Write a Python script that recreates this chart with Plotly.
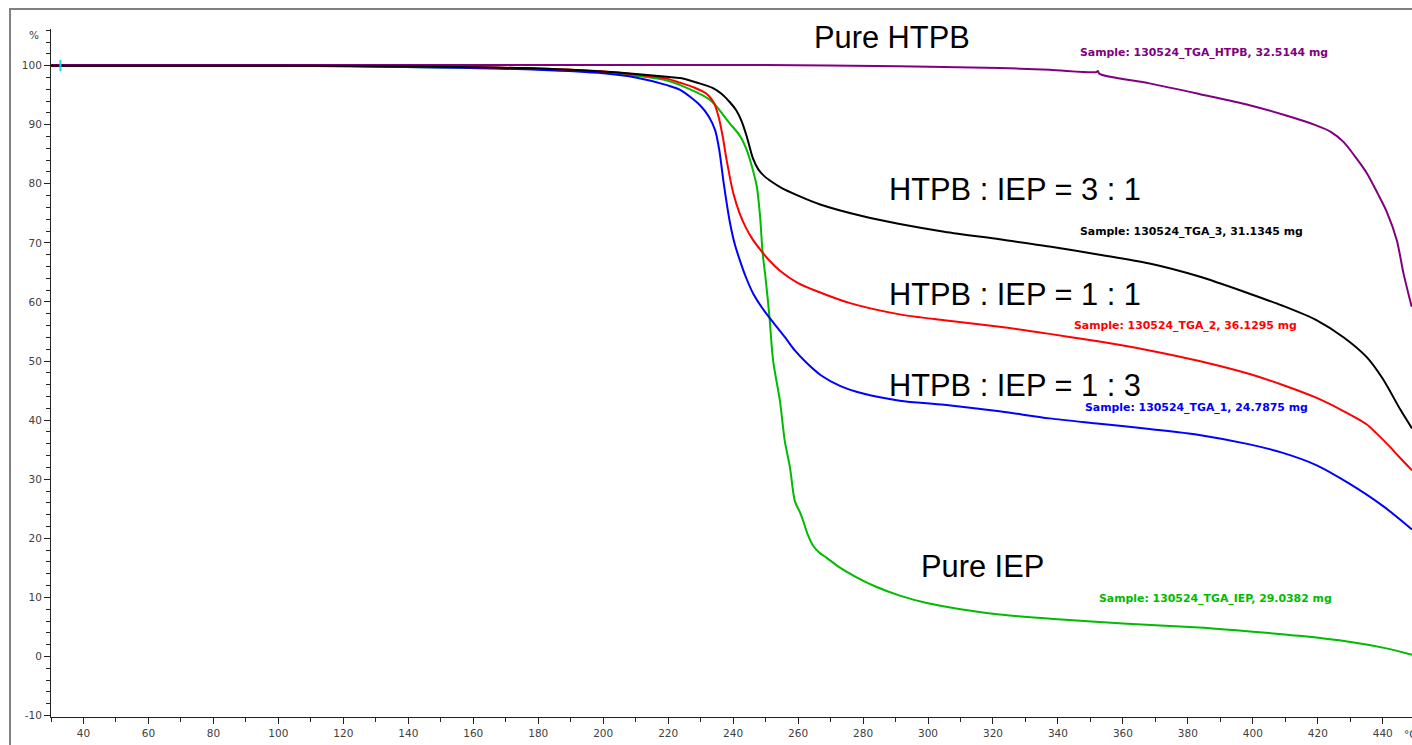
import plotly.graph_objects as go

# TGA mass-loss curves (temperature in °C, residual mass in %)
t_htpb = [30, 100, 200, 250, 291, 322, 337.4, 351.8, 352.3, 352.8, 368.2, 383.5, 399, 410,
          419.5, 424, 427.9, 431.5, 435.1, 438.5, 441.2, 444.3, 446.4, 448.9]
w_htpb = [100.1, 100.1, 100.1, 100.1, 99.9, 99.6, 99.3, 98.9, 99.1, 98.6, 97.0, 95.2, 93.3, 91.6,
          89.9, 88.8, 87.1, 84.6, 81.8, 78.3, 75.3, 70.5, 64.8, 59.2]

t_31 = [30, 100, 150, 180, 200, 210, 219.6, 223.7, 229, 233.8, 236.5, 239.0, 241, 242.6, 244.2,
        246.1, 247.8, 249.6, 252, 254.6, 260, 266.8, 280, 291.3, 305, 322, 337.4, 352.8, 368.2,
        383.5, 399, 409, 419.7, 428, 435, 440, 445.5, 449]
w_31 = [100, 100, 99.8, 99.5, 99.0, 98.6, 98.1, 97.9, 97.1, 96.2, 95.2, 93.8, 92.4, 90.6, 88.0,
        84.3, 82.4, 81.3, 80.3, 79.4, 78.0, 76.5, 74.5, 73.2, 71.9, 70.6, 69.4, 68.0, 66.5,
        64.3, 61.4, 59.4, 56.9, 54.0, 50.7, 47.0, 41.7, 38.6]

t_11 = [30, 100, 150, 180, 200, 210, 219.6, 223.7, 228, 231.9, 234, 235.5, 236.8, 238.0, 240.1,
        242, 244, 246, 248.3, 251, 254.4, 260, 266.8, 276, 291.3, 305, 322, 337.4, 352.8,
        368.2, 383.5, 399, 409, 419.5, 428, 435, 438, 442, 445, 449]
w_11 = [100, 100, 99.8, 99.5, 99.0, 98.5, 97.8, 97.1, 96.3, 95.2, 93.8, 91.4, 88.0, 84.0, 78.3,
        75.0, 72.5, 70.6, 68.9, 67.1, 65.3, 63.2, 61.6, 59.8, 57.9, 56.9, 55.8, 54.6, 53.3,
        51.8, 50.0, 47.8, 46.0, 43.8, 41.5, 39.3, 37.8, 35.6, 33.8, 31.5]

t_13 = [30, 100, 150, 180, 200, 210, 219.6, 223.7, 229.8, 232.5, 234.5, 235.8, 237, 239, 240.5,
        242.1, 244, 246.2, 248.8, 251.4, 256, 259, 262.6, 267, 272.9, 280, 291.3, 305, 322,
        337.4, 352.8, 368.2, 383.5, 399, 409, 419.5, 429.6, 440, 449]
w_13 = [100, 100, 99.7, 99.3, 98.7, 98.0, 96.7, 95.9, 93.3, 91.4, 89.0, 85.5, 80.5, 73.5, 69.8,
        67.0, 64.1, 61.4, 59.1, 57.2, 54.0, 51.8, 49.7, 47.6, 45.8, 44.5, 43.3, 42.6, 41.5,
        40.3, 39.4, 38.5, 37.5, 35.9, 34.5, 32.4, 29.3, 25.5, 21.5]

t_iep = [30, 100, 150, 180, 200, 210, 219.6, 223.7, 232.9, 239, 242, 244.2, 246, 247.3, 248.3,
         249.1, 249.9, 251.2, 252.3, 254.4, 255.9, 257.5, 259, 260.5, 261.6, 263, 264.7,
         266.5, 268.8, 273, 278, 284, 291.3, 300, 310, 322, 340, 360, 383.5, 400, 414.3,
         429.6, 440, 449]
w_iep = [100, 100, 99.7, 99.4, 98.9, 98.3, 97.5, 96.7, 94.2, 90.2, 88.2, 85.7, 82.5, 79.5, 74.5,
         68.2, 64.5, 57.4, 50.1, 43.3, 36.5, 32.0, 26.3, 24.5, 22.9, 20.6, 18.7, 17.6, 16.7,
         15.0, 13.4, 11.8, 10.3, 9.0, 8.0, 7.1, 6.3, 5.6, 4.9, 4.2, 3.5, 2.5, 1.5, 0.3]

sample_names = ["Sample: 130524_TGA_HTPB, 32.5144 mg",
                "Sample: 130524_TGA_3, 31.1345 mg",
                "Sample: 130524_TGA_2, 36.1295 mg",
                "Sample: 130524_TGA_1, 24.7875 mg",
                "Sample: 130524_TGA_IEP, 29.0382 mg"]
ratio_labels = ["Pure HTPB", "HTPB : IEP = 3 : 1", "HTPB : IEP = 1 : 1",
                "HTPB : IEP = 1 : 3", "Pure IEP"]
colors = ["#800080", "#000000", "#ff0000", "#0000ff", "#00bb00"]

x_ticks = list(range(40, 441, 20))
y_ticks = list(range(-10, 101, 10))

series = [(t_iep, w_iep), (t_13, w_13), (t_11, w_11), (t_htpb, w_htpb), (t_31, w_31)]
series_colors = [colors[4], colors[3], colors[2], colors[0], colors[1]]

fig = go.Figure()
for (t, w), c in zip(series, series_colors):
    fig.add_trace(go.Scatter(x=t, y=w, mode="lines",
                             line=dict(color=c, width=2, shape="spline", smoothing=0.8),
                             hoverinfo="skip", showlegend=False))

# start cursors on the 100 % line
fig.add_trace(go.Scatter(x=[29.6, 32.9], y=[100, 100], mode="markers", cliponaxis=False,
                         marker=dict(symbol="line-ns-open", size=8,
                                     line=dict(width=2, color=["#ff4040", "#30c0c0"])),
                         showlegend=False, hoverinfo="skip"))

# sample captions, coloured like their curves
sample_pos = [(346.2, 102.2), (346.2, 72.0), (344.3, 56.1), (347.7, 42.2), (352.0, 9.9)]
for name, (x, y), c in zip(sample_names, sample_pos, colors):
    fig.add_annotation(x=x, y=y, text=name, showarrow=False, xanchor="left", yanchor="middle",
                       font=dict(family="DejaVu Sans", size=10.9, color=c, weight="bold"))

ratio_pos = [(264.4, 104.8), (287.5, 79.1), (287.5, 61.3), (287.5, 45.9), (297.1, 15.3)]
for lab, (x, y) in zip(ratio_labels, ratio_pos):
    fig.add_annotation(x=x, y=y, text=lab, showarrow=False, xanchor="left", yanchor="middle",
                       font=dict(family="Liberation Sans", size=30.8, color="#000000"))

tick_font = dict(family="DejaVu Sans", size=10.5, color="#404040")
fig.add_annotation(x=30, y=105.2, xref="x", yref="y", text="%", showarrow=False,
                   xanchor="right", yanchor="middle", xshift=-10, font=tick_font)
fig.add_annotation(x=446.0, y=-0.025, xref="x", yref="paper", text="°C", showarrow=False,
                   xanchor="left", yanchor="middle", font=tick_font)

# outer frame
fig.add_shape(type="rect", xref="paper", yref="paper", x0=-0.0301, x1=1.02, y0=-0.06, y1=1.029,
              line=dict(color="#808080", width=2), fillcolor="rgba(0,0,0,0)", layer="below")

fig.update_xaxes(range=[30, 449], tickmode="array", tickvals=x_ticks,
                 ticktext=[str(v) for v in x_ticks], ticks="outside", ticklen=6,
                 tickcolor="#222", tickwidth=1, showline=True, linecolor="#222", linewidth=1,
                 showgrid=False, zeroline=False, tickfont=tick_font,
                 minor=dict(dtick=10, tick0=30, ticks="outside", ticklen=4,
                            tickcolor="#222", showgrid=False))
fig.update_yaxes(range=[-10.24, 106.2], tickmode="array", tickvals=y_ticks,
                 ticktext=[str(v) for v in y_ticks], ticks="outside", ticklen=6,
                 tickcolor="#222", tickwidth=1, showline=True, linecolor="#222", linewidth=1,
                 showgrid=False, zeroline=False, tickfont=tick_font,
                 minor=dict(dtick=2, tick0=0, ticks="outside", ticklen=4,
                            tickcolor="#222", showgrid=False))

fig.update_layout(width=1412, height=745, margin=dict(l=51, r=0, t=29, b=28),
                  paper_bgcolor="white", plot_bgcolor="white", showlegend=False)

fig.write_html("out.html")
